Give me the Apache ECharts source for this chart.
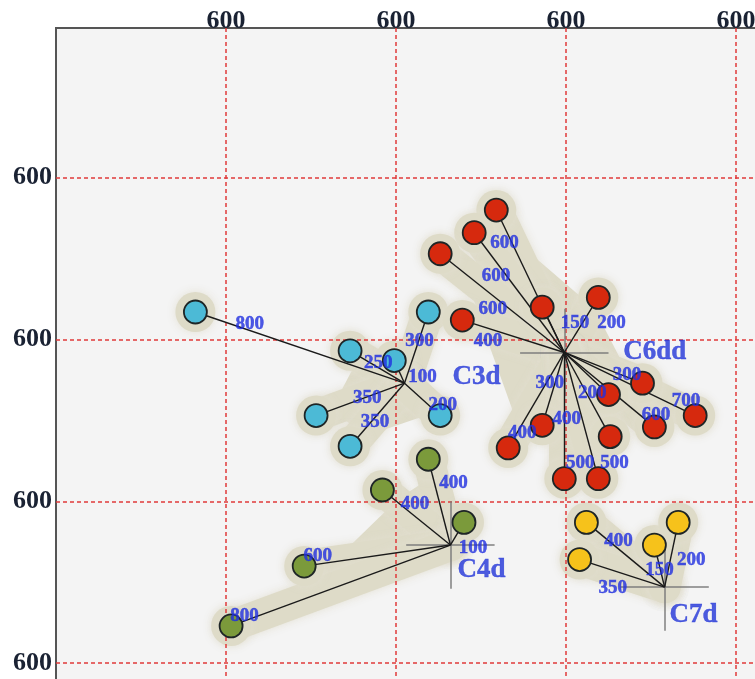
<!DOCTYPE html>
<html>
<head>
<meta charset="utf-8">
<script src="https://cdn.jsdelivr.net/npm/echarts@6/dist/echarts.min.js"></script>
<style>
  html, body { margin: 0; padding: 0; background: #ffffff; }
  #chart { width: 755px; height: 679px; }
</style>
</head>
<body>
<div id="chart"></div>
<script>
// ---- tick labels (one per grid line) ----
const xTickLabels = ['600', '600', '600', '600'];
const yTickLabels = ['600', '600', '600', '600'];

// ---- cluster centres ----
const hubNames = ['C3d', 'C4d', 'C6dd', 'C7d'];
const hubX = [105, 132, 199, 258];
const hubY = [173, 73, 192, 47];

// ---- members of each cluster and the distance written on each spoke ----
const c3dX = [-18, 119, 73, 99, 53, 73, 126];
const c3dY = [217, 217, 193, 187, 153, 134, 153];
const c3dDist = ['800', '300', '250', '100', '350', '350', '200'];

const c4dX = [119, 92, 140, 46, 3];
const c4dY = [126, 107, 87, 60, 23];
const c4dDist = ['400', '400', '100', '600', '800'];

const c6ddX = [159, 146, 126, 139, 186, 219, 245, 225, 276, 252, 186, 226, 166, 199, 219];
const c6ddY = [280, 266, 253, 212, 220, 226, 173, 166, 153, 146, 147, 140, 133, 114, 114];
const c6ddDist = ['600', '600', '600', '400', '150', '200', '300', '200', '700', '600', '300', '400', '400', '500', '500'];

const c7dX = [212, 208, 252, 266];
const c7dY = [87, 64, 73, 87];
const c7dDist = ['400', '350', '150', '200'];

// ---- presentation of each cluster ----
const serif = '"Liberation Serif", "Times New Roman", serif';
const clusterLook = {
  C3d: {
    color: '#4cbad6',
    nameShift: [48, -6],
    cross: false,
    noHalo: [0],
    labelT: [0.75, 0.59, 0.52, 0.30, 0.42, 0.58, 0.90],
    labelShift: [[2, -6], [1, 0], [2, -3], [21, 1], [0, 1], [2, 2], [6, -7]]
  },
  C4d: {
    color: '#7b9a3b',
    nameShift: [7, 25],
    cross: true,
    noHalo: [],
    labelT: [0.67, 0.61, 0.34, 0.90, 0.93],
    labelShift: [[18, -4], [6, -7], [18, 11], [-1, -8], [-2, -4]]
  },
  C6dd: {
    color: '#d6290e',
    nameShift: [59, 0],
    cross: true,
    noHalo: [],
    labelT: [0.79, 0.68, 0.52, 0.71, 0.42, 0.77, 0.79, 0.79, 0.90, 0.95, 0.43, 0.62, 0.82, 0.88, 0.92],
    labelShift: [[-6, 3], [-7, 5], [-7, 8], [-4, 12], [20, -10], [21, 13], [1, -2], [-7, 7],
                 [4, -8], [6, -8], [-5, -1], [-26, 14], [4, 2], [16, 0], [19, -5]]
  },
  C7d: {
    color: '#f6c21b',
    nameShift: [5, 28],
    cross: true,
    noHalo: [],
    labelT: [0.64, 0.55, 0.40, 0.48],
    labelShift: [[4, -5], [-5, 16], [-1, 0], [20, 4]]
  }
};

const clusters = [
  { x: c3dX, y: c3dY, dist: c3dDist },
  { x: c4dX, y: c4dY, dist: c4dDist },
  { x: c6ddX, y: c6ddY, dist: c6ddDist },
  { x: c7dX, y: c7dY, dist: c7dDist }
];

const haloColor = '#dedbc8';
const haloGlow = 'rgba(226,223,208,0.9)';
const crossArm = [26, 27];   // half-length of the centre cross, in axis units
const fanReach = 0.72;       // how far the shaded fan between neighbouring spokes extends
const fanMaxAngle = 115;     // neighbouring spokes wider apart than this are not joined

const haloSegs = [], haloDots = [], haloFans = [], spokes = [], crosses = [];
const nodeSeries = [], spokeLabels = [], hubLabels = [];

clusters.forEach((c, k) => {
  const name = hubNames[k];
  const look = clusterLook[name];
  const hx = hubX[k], hy = hubY[k];
  const pts = [];
  const shaded = [];
  c.x.forEach((lx, i) => {
    const ly = c.y[i];
    pts.push([lx, ly]);
    spokes.push({ coords: [[hx, hy], [lx, ly]] });
    if (look.noHalo.indexOf(i) < 0) {
      haloSegs.push({ coords: [[hx, hy], [lx, ly]] });
      shaded.push({ x: lx, y: ly, a: Math.atan2(ly - hy, lx - hx) * 180 / Math.PI });
    }
    haloDots.push([lx, ly]);
    const t = look.labelT[i];
    spokeLabels.push({
      value: [hx + t * (lx - hx), hy + t * (ly - hy)],
      label: { formatter: c.dist[i], offset: look.labelShift[i] }
    });
  });
  // join angularly neighbouring spokes into a shaded fan
  shaded.sort((p, q) => p.a - q.a);
  shaded.forEach((p, i) => {
    const q = shaded[(i + 1) % shaded.length];
    let d = q.a - p.a;
    if (d <= 0) d += 360;
    if (d < fanMaxAngle && shaded.length > 1) {
      haloFans.push([
        hx, hy,
        hx + fanReach * (p.x - hx), hy + fanReach * (p.y - hy),
        hx + fanReach * (q.x - hx), hy + fanReach * (q.y - hy)
      ]);
    }
  });
  if (look.cross) {
    crosses.push({ coords: [[hx - crossArm[0], hy], [hx + crossArm[0], hy]] });
    crosses.push({ coords: [[hx, hy - crossArm[1]], [hx, hy + crossArm[1]]] });
  }
  hubLabels.push({
    value: [hx, hy],
    label: { formatter: name, offset: look.nameShift }
  });
  nodeSeries.push({
    type: 'scatter',
    z: 5,
    silent: true,
    symbol: 'circle',
    symbolSize: 23,
    itemStyle: { color: look.color, borderColor: '#1e2526', borderWidth: 1.8, opacity: 1 },
    data: pts
  });
});

const tickText = (arr) => (v) => {
  const i = Math.round(v / 100);
  return (i >= 0 && i < arr.length) ? arr[i] : '';
};

const chart = echarts.init(document.getElementById('chart'), null, { renderer: 'canvas' });
chart.setOption({
  animation: false,
  backgroundColor: '#ffffff',
  grid: {
    left: 56, top: 28, width: 782, height: 797,
    outerBoundsMode: 'none',
    containLabel: false,
    show: true,
    backgroundColor: '#f4f4f4',
    borderColor: '#555555',
    borderWidth: 2,
    z: 0
  },
  xAxis: {
    type: 'value',
    position: 'top',
    min: -100, max: 360, interval: 100,
    z: 2,
    axisLine: { show: false },
    axisTick: { show: false },
    axisLabel: {
      formatter: tickText(xTickLabels),
      margin: -6,
      fontFamily: serif, fontWeight: 'bold', fontSize: 26, color: '#1a2233',
      showMinLabel: false
    },
    splitLine: { show: true, showMinLine: false, showMaxLine: false,
                 lineStyle: { color: '#e03a3a', width: 1.5, type: [4, 3] } }
  },
  yAxis: {
    type: 'value',
    min: -100, max: 392.5, interval: 100,
    z: 2,
    axisLine: { show: false },
    axisTick: { show: false },
    axisLabel: {
      formatter: tickText(yTickLabels),
      margin: 4,
      fontFamily: serif, fontWeight: 'bold', fontSize: 26, color: '#1a2233',
      showMaxLabel: false
    },
    splitLine: { show: true, showMinLine: false, showMaxLine: false,
                 lineStyle: { color: '#e03a3a', width: 1.5, type: [4, 3] } }
  },
  series: [
    {
      type: 'custom', coordinateSystem: 'cartesian2d', z: 1, silent: true,
      data: haloFans,
      renderItem: (params, api) => {
        const points = [];
        for (let j = 0; j < 6; j += 2) points.push(api.coord([api.value(j), api.value(j + 1)]));
        return {
          type: 'polygon',
          shape: { points: points },
          style: { fill: haloColor, stroke: haloColor, lineWidth: 14, lineJoin: 'round' }
        };
      }
    },
    {
      type: 'lines', coordinateSystem: 'cartesian2d', z: 1, silent: true,
      lineStyle: { color: haloColor, width: 32, opacity: 1, cap: 'round', shadowBlur: 8, shadowColor: haloGlow },
      data: haloSegs
    },
    {
      type: 'scatter', z: 1, silent: true, symbolSize: 40,
      itemStyle: { color: haloColor, opacity: 1, shadowBlur: 8, shadowColor: haloGlow },
      data: haloDots
    },
    {
      type: 'lines', coordinateSystem: 'cartesian2d', z: 3, silent: true,
      lineStyle: { color: 'rgba(120,120,120,0.7)', width: 2, opacity: 1 },
      data: crosses
    },
    {
      type: 'lines', coordinateSystem: 'cartesian2d', z: 4, silent: true,
      lineStyle: { color: '#1a1a1a', width: 1.4, opacity: 1 },
      data: spokes
    },
    ...nodeSeries,
    {
      type: 'scatter', z: 6, silent: true, symbolSize: 0,
      label: {
        show: true, position: 'inside',
        fontFamily: serif, fontWeight: 'bold', fontSize: 19, color: '#2030e0',
        textBorderColor: '#2030e0', textBorderWidth: 0.5
      },
      data: spokeLabels
    },
    {
      type: 'scatter', z: 6, silent: true, symbolSize: 0,
      label: {
        show: true, position: 'inside', align: 'left', verticalAlign: 'middle',
        fontFamily: serif, fontWeight: 'bold', fontSize: 27, color: '#2234d8',
        textBorderColor: '#2234d8', textBorderWidth: 0.4
      },
      data: hubLabels
    }
  ]
});
</script>
</body>
</html>
